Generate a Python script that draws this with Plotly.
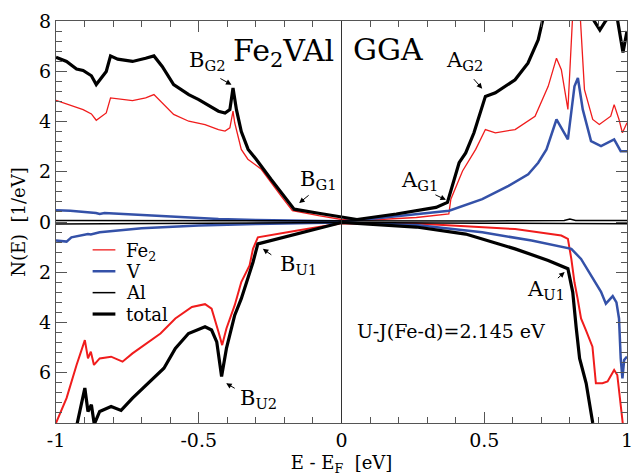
import plotly.graph_objects as go

# Spin-resolved partial DOS of Fe2VAl (GGA); spin-down plotted as negative values.
# ---- Fe2 ----
e_fe_up = [-1, -0.963, -0.928, -0.905, -0.876, -0.859, -0.824, -0.809, -0.732, -0.686, -0.657, -0.628,
           -0.588, -0.535, -0.478, -0.431, -0.408, -0.391, -0.38, -0.374, -0.351, -0.328, -0.281, -0.212,
           -0.172, -0.08, 0.0, 0.1, 0.262, 0.376, 0.383, 0.424, 0.47, 0.504, 0.539, 0.608, 0.678, 0.724,
           0.753, 0.77, 0.793, 0.822, 0.851, 0.88, 0.903, 0.943, 0.955, 0.972, 0.984, 1.0]
n_fe_up = [4.84, 4.7, 4.54, 4.47, 4.3, 4.05, 4.34, 4.94, 4.83, 4.94, 5.07, 4.74,
           4.28, 4.01, 3.88, 3.68, 3.62, 3.75, 4.41, 3.95, 2.89, 2.5, 2.1, 1.04,
           0.45, 0.25, 0.1, 0.08, 0.18, 0.32, 0.91, 2.03, 2.89, 3.68, 3.55, 3.68, 4.21, 5.4,
           6.52, 6.06, 4.48, 11.0, 5.27, 4.08, 3.88, 4.21, 4.67, 4.08, 3.55, 3.95]
e_fe_dn = [-1, -0.963, -0.928, -0.899, -0.888, -0.878, -0.867, -0.847, -0.807, -0.767, -0.732, -0.634,
           -0.582, -0.524, -0.478, -0.455, -0.431, -0.418, -0.403, -0.374, -0.351, -0.322, -0.31, -0.293,
           -0.154, 0.0, 0.262, 0.608, 0.77, 0.793, 0.805, 0.816, 0.827, 0.839, 0.856, 0.879, 0.891,
           0.914, 0.932, 0.955, 0.966, 0.978, 0.984, 0.99]
n_fe_dn = [-8.0, -7.01, -5.69, -4.7, -5.43, -5.16, -5.69, -5.43, -5.36, -5.56, -5.23, -4.44,
           -3.84, -3.38, -3.27, -3.45, -4.37, -4.9, -4.24, -3.31, -2.39, -1.73, -1.07, -0.61,
           -0.34, -0.05, -0.06, -0.28, -0.54, -0.67, -1.47, -2.4, -3.05, -3.84, -4.3, -4.96, -6.42,
           -6.42, -6.35, -5.89, -6.09, -7.41, -8.0, -8.5]

# ---- V ----
e_v_up = [-1, -0.95, -0.86, -0.847, -0.83, -0.78, -0.7, -0.6, -0.5, -0.431, -0.3, -0.15, 0.0, 0.1,
          0.262, 0.377, 0.493, 0.585, 0.654, 0.689, 0.718, 0.753, 0.793, 0.816, 0.828, 0.845, 0.874,
          0.909, 0.955, 0.978, 1.0]
n_v_up = [0.47, 0.45, 0.36, 0.32, 0.36, 0.33, 0.28, 0.22, 0.16, 0.12, 0.08, 0.05, 0.03, 0.12,
          0.3, 0.45, 0.91, 1.44, 1.9, 2.36, 2.89, 4.08, 3.29, 5.4, 5.73, 4.48, 3.22,
          3.02, 3.29, 2.82, 2.82]
e_v_dn = [-1, -0.963, -0.946, -0.905, -0.888, -0.878, -0.847, -0.7, -0.5, -0.3, 0.0, 0.262, 0.493,
          0.666, 0.805, 0.839, 0.874, 0.909, 0.926, 0.95, 0.963, 0.972, 0.978, 0.984, 0.99, 1.0]
n_v_dn = [-0.74, -0.78, -0.61, -0.51, -0.48, -0.5, -0.41, -0.25, -0.14, -0.08, -0.02, -0.12, -0.41,
          -0.74, -1.07, -1.47, -2.13, -2.78, -3.25, -2.95, -3.2, -3.84, -5.43, -6.22, -5.49, -5.36]

# ---- Al ----
e_al_up = [-1, -0.5, 0.0, 0.5, 0.78, 0.8, 0.82, 1.0]
n_al_up = [0.06, 0.05, 0.02, 0.04, 0.06, 0.12, 0.06, 0.06]
e_al_dn = [-1, -0.5, 0.0, 0.5, 1.0]
n_al_dn = [-0.08, -0.06, -0.02, -0.05, -0.07]

# ---- total ----
e_tot_up = [-1, -0.963, -0.928, -0.905, -0.876, -0.859, -0.824, -0.809, -0.784, -0.732, -0.686, -0.657,
            -0.628, -0.588, -0.535, -0.5, -0.431, -0.408, -0.391, -0.38, -0.368, -0.351, -0.327, -0.299,
            -0.247, -0.166, -0.08, 0.0, 0.054, 0.192, 0.331, 0.371, 0.412, 0.435, 0.464, 0.504, 0.539,
            0.608, 0.653, 0.689, 0.72, 0.8, 0.885, 0.905, 0.925, 0.96, 0.975, 0.986, 1.0]
n_tot_up = [6.56, 6.39, 6.09, 6.03, 5.82, 5.47, 5.99, 6.61, 6.48, 6.39, 6.52, 6.61,
            6.19, 5.47, 5.07, 4.87, 4.41, 4.34, 4.47, 5.33, 4.47, 3.6, 2.89, 2.5,
            1.7, 0.51, 0.35, 0.19, 0.1, 0.32, 0.58, 0.78, 2.36, 2.75, 3.55, 5.0, 5.14,
            5.66, 6.32, 7.25, 8.8, 10.0, 8.0, 7.64, 8.0, 8.5, 7.5, 6.75, 7.6]
e_tot_dn = [-0.935, -0.899, -0.888, -0.876, -0.866, -0.847, -0.807, -0.772, -0.732, -0.64, -0.622,
            -0.582, -0.536, -0.478, -0.455, -0.437, -0.42, -0.403, -0.374, -0.351, -0.328, -0.31,
            -0.293, -0.154, 0.0, 0.262, 0.435, 0.608, 0.724, 0.793, 0.81, 0.822, 0.834, 0.857, 0.88, 0.9]
n_tot_dn = [-8.5, -6.61, -7.54, -7.27, -8.05, -7.54, -7.34, -7.5, -7.01, -6.02, -5.82,
            -5.03, -4.44, -4.17, -4.3, -4.77, -6.15, -5.03, -3.71, -3.05, -2.26, -1.6,
            -0.87, -0.48, -0.02, -0.2, -0.48, -1.07, -1.53, -1.86, -2.8, -4.2, -5.43, -6.42, -8.0, -9.0]

# y tick labels show magnitudes for both spin channels
y_tickvals = [-6, -4, -2, 0, 2, 4, 6, 8]
y_ticktext = ["6", "4", "2", "0", "2", "4", "6", "8"]
x_tickvals = [-1, -0.5, 0, 0.5, 1]
x_ticktext = ["-1", "-0.5", "0", "0.5", "1"]

RED = "#f01c1c"
BLUE = "#3451a8"
BLACK = "#000000"
FONT = "DejaVu Serif"

series_names = ["Fe<sub>2</sub>", "V", "Al", "total"]
series_colors = [RED, BLUE, BLACK, BLACK]
up_widths = [1.3, 2.5, 1.5, 3.2]
dn_widths = [2.0, 2.5, 1.5, 3.2]
up_data = [(e_fe_up, n_fe_up), (e_v_up, n_v_up), (e_al_up, n_al_up), (e_tot_up, n_tot_up)]
dn_data = [(e_fe_dn, n_fe_dn), (e_v_dn, n_v_dn), (e_al_dn, n_al_dn), (e_tot_dn, n_tot_dn)]

fig = go.Figure()
for name, color, wu, wd, (eu, nu), (ed, nd) in zip(series_names, series_colors, up_widths, dn_widths,
                                                    up_data, dn_data):
    fig.add_trace(go.Scatter(x=eu, y=nu, mode="lines", name=name, showlegend=False,
                             line=dict(color=color, width=wu)))
    fig.add_trace(go.Scatter(x=ed, y=nd, mode="lines", name=name, showlegend=False,
                             line=dict(color=color, width=wd)))

# Fermi level
fig.add_shape(type="line", x0=0, x1=0, y0=-8, y1=8, xref="x", yref="y",
              line=dict(color="#333333", width=1))

axis_common = dict(showgrid=False, zeroline=False, showline=True, linecolor="#555555", linewidth=1.3,
                   mirror="allticks", ticks="inside", ticklen=11, tickwidth=1.3, tickcolor="#555555",
                   tickfont=dict(family=FONT, size=19, color="black"))

fig.update_xaxes(range=[-1, 1], tickmode="array", tickvals=x_tickvals, ticktext=x_ticktext,
                 minor=dict(ticks="inside", tickmode="linear", tick0=0, dtick=0.1, ticklen=6,
                            tickwidth=1.2, tickcolor="#555555"),
                 title=dict(text="E - E<sub>F</sub>\u00a0 [eV]", font=dict(family=FONT, size=18, color="black"),
                            standoff=6),
                 **axis_common)
fig.update_yaxes(range=[-8, 8], tickmode="array", tickvals=y_tickvals, ticktext=y_ticktext,
                 minor=dict(ticks="inside", tickmode="linear", tick0=0, dtick=0.4, ticklen=6,
                            tickwidth=1.2, tickcolor="#555555"),
                 title=dict(text="N(E)\u00a0 [1/eV]", font=dict(family=FONT, size=18, color="black"),
                            standoff=8),
                 **axis_common)

def px2data(px, py):
    return (px - 344.5) / 288.5, (223 - py) / 25.25

annotations = []

def label(text, px, py, size=21, anchor="left"):
    x, y = px2data(px, py)
    annotations.append(dict(x=x, y=y, xref="x", yref="y", text=text, showarrow=False,
                            xanchor=anchor, yanchor="middle", borderpad=0,
                            font=dict(family=FONT, size=size, color="black")))

def arrow(tx, ty, hx, hy):
    x, y = px2data(hx, hy)
    annotations.append(dict(x=x, y=y, xref="x", yref="y", text="", showarrow=True,
                            ax=tx - hx, ay=ty - hy, arrowhead=2, arrowsize=1.1, arrowwidth=1,
                            arrowcolor="black", standoff=0))

label("Fe<sub>2</sub>VAl", 234, 53, size=30)
label("GGA", 355, 50, size=30)
label("B<sub>G2</sub>", 189, 61)
label("B<sub>G1</sub>", 302, 181)
label("A<sub>G1</sub>", 404, 182)
label("A<sub>G2</sub>", 449, 61)
label("B<sub>U1</sub>", 281, 266)
label("B<sub>U2</sub>", 241, 401)
label("A<sub>U1</sub>", 531, 291)
label("U-J(Fe-d)=2.145 eV", 359, 333, size=19)

arrow(220.7, 78, 233.3, 85)
arrow(312.7, 195, 301.7, 204)
arrow(438, 195, 450, 200.7)
arrow(477, 78, 486.7, 89)
arrow(275, 257, 265, 250)
arrow(238, 391, 228, 385)
arrow(561.7, 280.7, 570, 273.3)

# Legend: short line samples with serif labels
legend_rows = [251, 272.5, 294, 315.5]
for name, color, w, py in zip(series_names, series_colors, up_widths, legend_rows):
    x0, y0 = px2data(93, py)
    x1, _ = px2data(116, py)
    fig.add_shape(type="line", x0=x0, x1=x1, y0=y0, y1=y0, xref="x", yref="y",
                  line=dict(color=color, width=w))
    label(name, 126, py + (2 if "sub" in name else 0), size=18)

fig.update_layout(
    width=639, height=476,
    margin=dict(l=56, r=6, t=21, b=51),
    plot_bgcolor="white", paper_bgcolor="white",
    annotations=annotations,
    showlegend=False,
)

fig.write_html("out.html")
